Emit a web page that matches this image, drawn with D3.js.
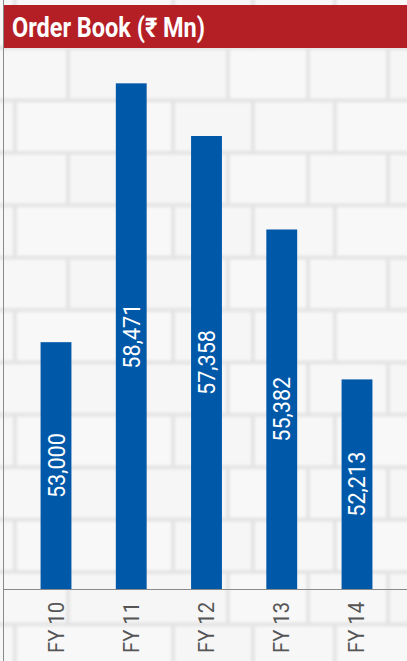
<!DOCTYPE html>
<html>
<head>
<meta charset="utf-8">
<script src="https://cdn.jsdelivr.net/npm/d3@7"></script>
<style>
  html, body { margin: 0; padding: 0; background: #f6f6f6; }
  svg { display: block; }
</style>
</head>
<body>
<div id="chart"></div>
<script>
// Order book by fiscal year (₹ Mn)
const years = ["FY 10", "FY 11", "FY 12", "FY 13", "FY 14"];
const orderBook = [53000, 58471, 57358, 55382, 52213];
const titleText = "Order Book (₹ Mn)";

const W = 407, H = 661;
const baseY = 589;
const svg = d3.select("#chart").append("svg").attr("width", W).attr("height", H);
const defs = svg.append("defs");

// soft white-brick wall backdrop
const blur = defs.append("filter").attr("id", "soft").attr("x", "-10%").attr("y", "-10%").attr("width", "120%").attr("height", "120%");
blur.append("feGaussianBlur").attr("stdDeviation", 1.8);

const rowH = 52.4, patW = 320;
const pat = defs.append("pattern").attr("id", "bricks").attr("patternUnits", "userSpaceOnUse")
  .attr("x", 0).attr("y", 48).attr("width", patW).attr("height", rowH * 2);
pat.append("rect").attr("width", patW).attr("height", rowH * 2).attr("fill", "#e2e2e2");
const rowA = [[-12, 68, "#f8f8f8"], [68, 228, "#f6f6f6"], [228, 308, "#f9f9f9"], [308, 388, "#f8f8f8"]];
const rowB = [[-145, 15, "#f7f7f7"], [15, 173, "#f9f9f9"], [173, 253, "#f6f6f6"], [253, 335, "#f8f8f8"]];
pat.selectAll("rect.a").data(rowA).join("rect").attr("class", "a")
  .attr("x", d => d[0] + 2).attr("y", 2).attr("width", d => d[1] - d[0] - 4).attr("height", rowH - 4).attr("fill", d => d[2]);
pat.selectAll("rect.b").data(rowB).join("rect").attr("class", "b")
  .attr("x", d => d[0] + 2).attr("y", rowH + 2).attr("width", d => d[1] - d[0] - 4).attr("height", rowH - 4).attr("fill", d => d[2]);

svg.append("rect").attr("width", W).attr("height", H).attr("fill", "#f7f7f7");
svg.append("rect").attr("x", -4).attr("y", -4).attr("width", W + 8).attr("height", H + 8)
  .attr("fill", "url(#bricks)").attr("filter", "url(#soft)").attr("opacity", 0.9);

// scales
const x = d3.scaleBand().domain(years).range([18, 395]).paddingInner(0.59).paddingOuter(0.3);
const y = d3.scaleLinear().domain([47783, 60000]).range([baseY, 11]);

// bars
svg.append("g").selectAll("rect").data(orderBook).join("rect")
  .attr("x", (d, i) => x(years[i]))
  .attr("y", d => y(d))
  .attr("width", x.bandwidth())
  .attr("height", d => baseY - y(d))
  .attr("fill", "#0058a9");

// value labels, rotated and centred in each bar
const fmt = d3.format(",");
svg.append("g").selectAll("text").data(orderBook).join("text")
  .attr("transform", (d, i) => {
    const cx = x(years[i]) + x.bandwidth() / 2;
    const cy = (y(d) + baseY) / 2;
    return `translate(${cx + 8.5},${cy}) rotate(-90)`;
  })
  .attr("text-anchor", "middle")
  .attr("font-family", "Roboto, 'Liberation Sans', sans-serif")
  .attr("font-size", 24)
  .attr("textLength", 65)
  .attr("lengthAdjust", "spacingAndGlyphs")
  .attr("fill", "#ffffff")
  .text(d => fmt(d));

// baseline axis
const xAxis = d3.axisBottom(x).tickSize(0).tickPadding(0);
const ax = svg.append("g").attr("transform", `translate(0,${baseY})`).call(xAxis);
ax.select(".domain").remove();
ax.selectAll("text")
  .attr("transform", "translate(7.5,13) rotate(-90)")
  .attr("text-anchor", "end")
  .attr("dy", 0)
  .attr("y", 0)
  .attr("x", 0)
  .attr("font-family", "Roboto, 'Liberation Sans', sans-serif")
  .attr("font-size", 22)
  .attr("textLength", 51)
  .attr("lengthAdjust", "spacingAndGlyphs")
  .attr("fill", "#555555");
svg.append("line").attr("x1", 3).attr("x2", W).attr("y1", baseY + 0.5).attr("y2", baseY + 0.5)
  .attr("stroke", "#8a8a8a").attr("stroke-width", 1.2);

// left rule
svg.append("line").attr("x1", 3.5).attr("x2", 3.5).attr("y1", 0).attr("y2", H)
  .attr("stroke", "#8a8a8a").attr("stroke-width", 1);

// title band
svg.append("rect").attr("x", 4).attr("y", 5).attr("width", W - 4).attr("height", 43).attr("fill", "#b41f26");
svg.append("text").attr("x", 12).attr("y", 36.5)
  .attr("font-family", "Roboto, 'Liberation Sans', sans-serif")
  .attr("font-weight", "bold")
  .attr("font-size", 27)
  .attr("textLength", 193)
  .attr("lengthAdjust", "spacingAndGlyphs")
  .attr("fill", "#ffffff")
  .text(titleText);
</script>
</body>
</html>
